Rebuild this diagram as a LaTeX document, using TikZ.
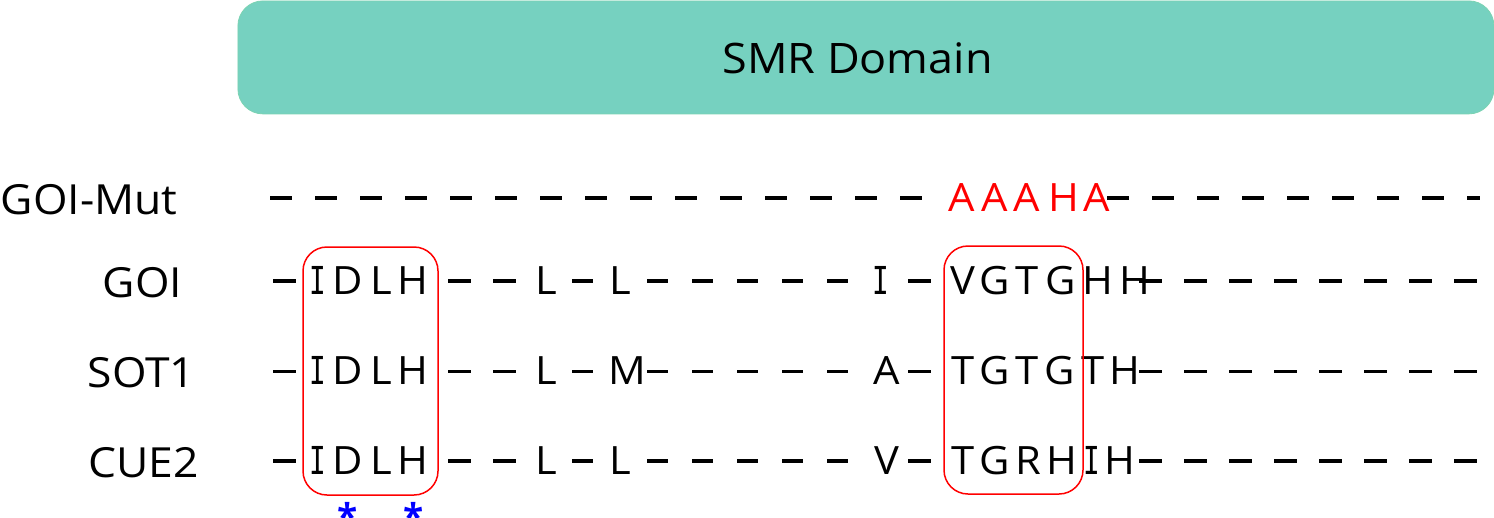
\documentclass[tikz,border=0pt]{standalone}
\usepackage{fontspec}
\usepackage{graphicx}
\setmainfont{Open Sans}[FakeStretch=1.07]
\newfontfamily\starfont{Open Sans}
\newfontfamily\serifIfont{DejaVu Sans Mono}
\definecolor{smr}{HTML}{76D1C0}
\definecolor{smredge}{HTML}{7BD3B2}
\newcommand{\sI}{{\serifIfont\fontsize{38.5}{46}\selectfont\scalebox{0.72}[1]{I}}}
\begin{document}
\begin{tikzpicture}[x=1pt,y=-1pt,
  seq/.style={font=\fontsize{39}{47}\selectfont, anchor=base, inner sep=0pt, text=black},
  mut/.style={seq, text=red},
  lbl/.style={font=\fontsize{41.5}{49}\selectfont, anchor=base, inner sep=0pt},
  gap/.style={line width=3.6pt},
  motif/.style={draw=red, line width=1.5pt, rounded corners=24pt},
  starmark/.style={font=\starfont\bfseries\fontsize{37}{45}\selectfont, text=blue, anchor=base, inner sep=0pt}
]
\useasboundingbox (0,0) rectangle (1494,517);

% SMR domain bar
\node[draw=smredge, line width=0.8pt, fill=smr, rounded corners=25pt, minimum width=1256pt, minimum height=113pt,
      anchor=north west, inner sep=0pt] (smr) at (237.5,0.5) {};
\node[font=\fontsize{42}{50}\selectfont, anchor=base, inner sep=0pt] (smrtext) at (857.5,73) {SMR Domain};

% row labels
\node[lbl] (lmut) at (89,214) {GOI-Mut};
\node[lbl] (lgoi) at (142.5,297) {GOI};
\node[lbl] (lsot) at (141.5,387) {SOT1};
\node[lbl] (lcue) at (143.5,477) {CUE2};

% GOI-Mut row
\foreach \k in {0,...,14} \draw[gap] ({270+45*\k},197.7) -- ++(22,0);
\foreach \x/\c [count=\i] in {962/A,995/A,1027/A,1064/H,1097/A}
  \node[mut] (m\i) at (\x,211.7) {\c};
\foreach \k in {0,...,7} \draw[gap] ({1107+45*\k},197.7) -- ++(22,0);
\draw[gap] (1467,197.7) -- (1480,197.7);

% gap dashes shared by the three aligned rows
\foreach \y in {281,371.5,461} {
  \draw[gap] (273,\y) -- ++(23,0);
  \foreach \x in {448,493} \draw[gap] (\x,\y) -- ++(23,0);
  \draw[gap] (572,\y) -- ++(21,0);
  \foreach \x in {647,692,737,782,827} \draw[gap] (\x,\y) -- ++(21,0);
  \draw[gap] (908,\y) -- ++(23,0);
  \foreach \k in {0,...,7} \draw[gap] ({1139+45*\k},\y) -- ++(23,0);
}

% GOI
\foreach \x/\c [count=\i] in {318/\sI,348/D,381/L,413/H,546/L,620/L,881/\sI,963/V,995/G,1027/T,1061/G,1098/H,1135/H}
  \node[seq] (g\i) at (\x,294.3) {\c};
% SOT1
\foreach \x/\c [count=\i] in {318/\sI,348/D,381/L,413/H,546/L,627/M,887/A,963/T,995/G,1027/T,1060/G,1093/T,1125/H}
  \node[seq] (s\i) at (\x,384.3) {\c};
% CUE2
\foreach \x/\c [count=\i] in {318/\sI,348/D,381/L,413/H,546/L,620/L,887/V,963/T,995/G,1028/R,1062/H,1092/\sI,1120/H}
  \node[seq] (c\i) at (\x,474.3) {\c};

% conserved motif boxes
\draw[motif] (303,247) rectangle (438,495);
\draw[motif] (944,246) rectangle (1083,494);

% catalytic residues
\node[starmark] (st1) at (348,530) {*};
\node[starmark] (st2) at (414,530) {*};
\end{tikzpicture}
\end{document}
